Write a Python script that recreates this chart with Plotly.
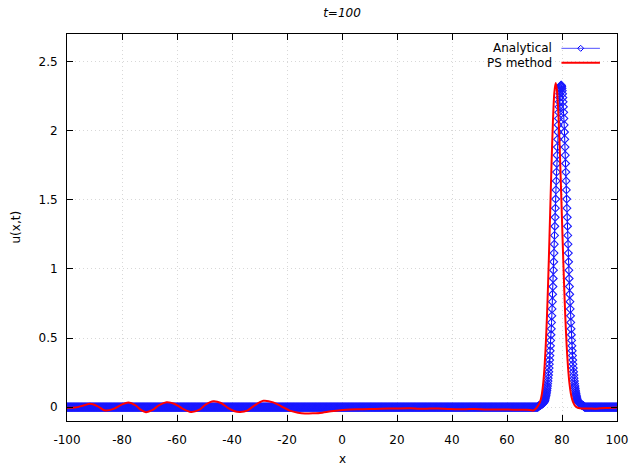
import numpy as np
import plotly.graph_objects as go

# ---------------- data ----------------
# spatial grid of the analytical solution (spacing 0.1 on [-100, 100])
x_grid = np.round(np.linspace(-100.0, 100.0, 2001), 1)
analytic_baseline = 0.0
analytic_peak_start = 71.2          # first grid x of the soliton hump
analytic_peak = [
    0.001, 0.003, 0.005, 0.007, 0.009, 0.011, 0.012, 0.013, 0.014, 0.015,
    0.016, 0.017, 0.019, 0.020, 0.021, 0.023, 0.024, 0.026, 0.028, 0.030,
    0.032, 0.034, 0.036, 0.039, 0.042, 0.046, 0.052, 0.060, 0.067, 0.076,
    0.086, 0.097, 0.109, 0.122, 0.137, 0.153, 0.170, 0.189, 0.210, 0.232,
    0.256, 0.283, 0.311, 0.341, 0.373, 0.408, 0.444, 0.483, 0.524, 0.567,
    0.613, 0.661, 0.711, 0.763, 0.817, 0.873, 0.931, 0.991, 1.052, 1.115,
    1.179, 1.243, 1.309, 1.374, 1.440, 1.506, 1.572, 1.637, 1.701, 1.763,
    1.823, 1.882, 1.938, 1.991, 2.042, 2.089, 2.133, 2.173, 2.209, 2.240,
    2.267, 2.290, 2.307, 2.320, 2.328,
    2.330,
    2.328, 2.320, 2.307, 2.290, 2.267, 2.240, 2.209, 2.173, 2.133, 2.089,
    2.042, 1.991, 1.938, 1.882, 1.823, 1.763, 1.701, 1.637, 1.572, 1.506,
    1.440, 1.374, 1.309, 1.243, 1.179, 1.115, 1.052, 0.991, 0.931, 0.873,
    0.817, 0.763, 0.711, 0.661, 0.613, 0.567, 0.524, 0.483, 0.444, 0.408,
    0.373, 0.341, 0.311, 0.283, 0.256, 0.232, 0.210, 0.189, 0.170, 0.153,
    0.137, 0.122, 0.109, 0.097, 0.086, 0.076, 0.067, 0.060, 0.052, 0.046,
    0.042, 0.039, 0.036, 0.034, 0.032, 0.030, 0.028, 0.026, 0.024, 0.023,
    0.021, 0.020, 0.019, 0.017, 0.016, 0.015, 0.014, 0.013, 0.012, 0.011,
    0.009, 0.007, 0.005, 0.003, 0.001,
]

ps_x = [-100, -97, -94, -91.6, -89, -86.2, -83, -80, -77.7, -75,
        -73, -71.3, -69, -66.5, -63.8, -61, -58, -55, -52, -49.5,
        -46.8, -44, -41.5, -39, -37, -34.5, -32, -28.6, -25, -22,
        -19, -16, -13.5, -10, -8, -4, -0.7, 3, 6.5, 10,
        14, 18.7, 25, 28, 32, 35, 39.3, 45, 48, 52.6,
        58, 62, 67.2, 68.4, 69.6, 70.2, 70.7, 71.2, 71.7, 72.2,
        72.7, 73.2, 73.7, 74.2, 74.7, 75.2, 75.7, 76.2, 76.7, 77.2,
        77.7, 78.2, 78.7, 79.2, 79.7, 80.2, 80.7, 81.2, 81.7, 82.2,
        82.7, 83.2, 83.7, 84.2, 84.7, 85.2, 85.7, 86.5, 88, 90,
        92, 94, 96, 98, 100]
ps_u = [-0.005, -0.003, 0.012, 0.024, 0.008, -0.024, -0.012, 0.020, 0.034, 0.012,
        -0.022, -0.036, -0.022, 0.015, 0.036, 0.025, -0.010, -0.034, -0.020, 0.020,
        0.043, 0.030, -0.005, -0.030, -0.034, -0.025, 0.010, 0.046, 0.035, 0.005,
        -0.025, -0.040, -0.046, -0.044, -0.042, -0.030, -0.022, -0.016, -0.015, -0.014,
        -0.011, -0.010, -0.008, -0.012, -0.010, -0.009, -0.014, -0.015, -0.013, -0.017,
        -0.016, -0.018, -0.019, -0.021, -0.024, -0.016, -0.006, 0.008, 0.024, 0.050,
        0.098, 0.179, 0.308, 0.495, 0.748, 1.061, 1.412, 1.763, 2.066, 2.273,
        2.346, 2.286, 2.114, 1.857, 1.548, 1.225, 0.920, 0.656, 0.444, 0.286,
        0.174, 0.101, 0.056, 0.029, 0.012, 0.002, -0.004, -0.008, -0.010, -0.009,
        -0.011, -0.008, -0.006, -0.005, -0.003]

x_ticks = [-100, -80, -60, -40, -20, 0, 20, 40, 60, 80, 100]
x_tick_labels = ["-100", "-80", "-60", "-40", "-20", "0", "20", "40", "60", "80", "100"]
y_ticks = [0, 0.5, 1, 1.5, 2, 2.5]
y_tick_labels = ["0", "0.5", "1", "1.5", "2", "2.5"]
series_names = ["Analytical", "PS method"]

# analytical series on the grid
u_analytic = np.full(x_grid.shape, analytic_baseline)
i0 = int(round((analytic_peak_start - x_grid[0]) / 0.1))
u_analytic[i0:i0 + len(analytic_peak)] = analytic_peak

FONT = "DejaVu Sans"
BLUE = "#0000ff"
RED = "#ff0000"

fig = go.Figure()
fig.add_trace(go.Scatter(
    x=x_grid, y=u_analytic, mode="lines+markers", name=series_names[0],
    line=dict(color=BLUE, width=1),
    marker=dict(symbol="diamond-open", size=6, color="#1a1aff",
                line=dict(width=1.1, color="#1a1aff")),
    showlegend=False,
))
fig.add_trace(go.Scatter(
    x=ps_x, y=ps_u, mode="lines", name=series_names[1],
    line=dict(color=RED, width=2, shape="spline", smoothing=0.8),
    showlegend=False,
))

axis_common = dict(
    showline=True, linecolor="black", linewidth=1, mirror="ticks",
    ticks="inside", ticklen=6, tickcolor="black", tickwidth=1,
    showgrid=True, gridcolor="#d8d8d8", gridwidth=1, griddash="1px,3px",
    zeroline=False, automargin=False,
    tickfont=dict(family=FONT, size=12, color="black"),
)

fig.update_layout(
    width=631, height=466,
    margin=dict(l=67, r=14, t=34, b=45, autoexpand=False),
    paper_bgcolor="white", plot_bgcolor="white",
    font=dict(family=FONT, size=12, color="black"),
    xaxis=dict(range=[-100, 100], tickvals=x_ticks, ticktext=x_tick_labels,
               ticklabelstandoff=8, **axis_common),
    yaxis=dict(range=[-0.1, 2.7], tickvals=y_ticks, ticktext=y_tick_labels,
               ticklabelstandoff=6, **axis_common),
    title=dict(text="<i>t=100</i>", x=0.5, xref="paper", xanchor="center",
               y=1 - 12.5 / 466, yref="container", yanchor="middle",
               font=dict(family=FONT, size=12, color="black")),
)

# axis titles
fig.add_annotation(text="x", xref="x domain", yref="y domain", x=0.5, y=-38 / 387,
                   xanchor="center", yanchor="middle", showarrow=False,
                   font=dict(family=FONT, size=12, color="black"))
fig.add_annotation(text="u(x,t)", xref="x domain", yref="y domain", x=-52 / 550, y=0.5,
                   textangle=-90, xanchor="center", yanchor="middle", showarrow=False,
                   font=dict(family=FONT, size=12, color="black"))

# gnuplot-style key: text on the left, sample on the right
key_rows = [0.963, 0.926]
for name, yk in zip(series_names, key_rows):
    fig.add_annotation(text=name, xref="x domain", yref="y domain", x=0.885, y=yk,
                       xanchor="right", yanchor="middle", showarrow=False,
                       font=dict(family=FONT, size=12, color="black"))
fig.add_shape(type="line", xref="x domain", yref="y domain",
              x0=0.899, x1=0.969, y0=key_rows[0], y1=key_rows[0],
              line=dict(color="#5050ff", width=1))
fig.add_shape(type="path", xref="x domain", yref="y domain",
              xsizemode="pixel", ysizemode="pixel", xanchor=0.934, yanchor=key_rows[0],
              path="M0,3 L3,0 L0,-3 L-3,0 Z", line=dict(color=BLUE, width=1))
fig.add_shape(type="line", xref="x domain", yref="y domain",
              x0=0.899, x1=0.969, y0=key_rows[1], y1=key_rows[1],
              line=dict(color=RED, width=2))

fig.write_html("out.html", config={"displayModeBar": False},
               post_script="document.body.style.margin='0';")
